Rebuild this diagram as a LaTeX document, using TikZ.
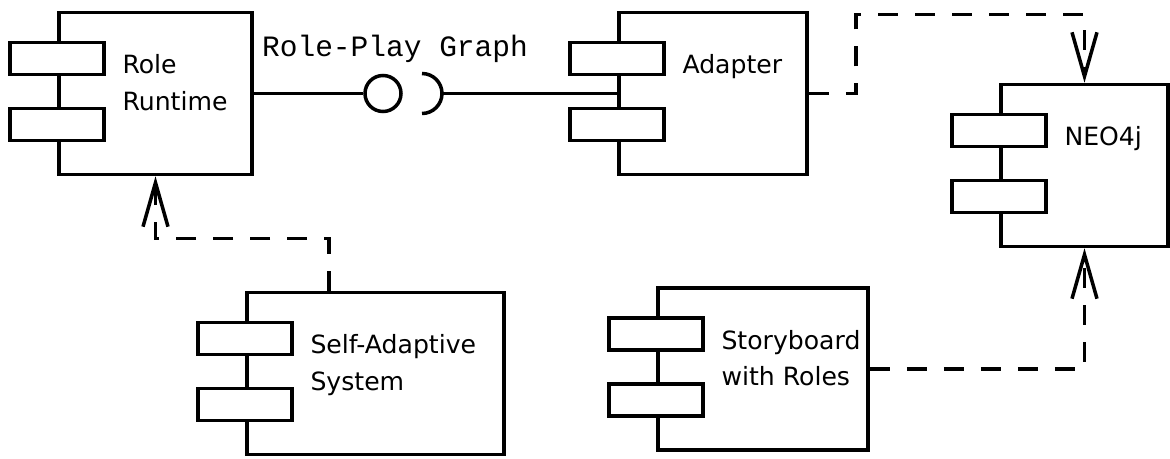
\documentclass[tikz,border=0pt]{standalone}
\usepackage{fontspec}
\setmainfont{DejaVu Sans}
\newfontfamily\graphfont{Liberation Mono}
\usetikzlibrary{arrows.meta}

\tikzset{
    comp/.style={draw, minimum height=3.24cm, inner sep=0pt},
    port/.style={draw, fill=white, minimum width=1.88cm, minimum height=0.64cm, inner sep=0pt},
    comp text/.style={anchor=north west, inner sep=0pt, align=left, font=\fontsize{14.3}{21}\selectfont},
    depends/.style={dash pattern=on 0.4cm off 0.34cm, -{Straight Barb[length=0.88cm, width=0.5cm]}},
}

% component box with its two ports and a label: name, centre, width, text
\newcommand{\umlcomp}[4]{%
    \node[comp, minimum width=#3] (#1) at (#2) {};
    \node[port] (#1-p1) at ([yshift=-0.96cm]#1.north west) {};
    \node[port] (#1-p2) at ([yshift=-2.28cm]#1.north west) {};
    \node[comp text] (#1-t) at ([xshift=1.27cm, yshift=-0.84cm]#1.north west) {#4};
}

\begin{document}
\begin{tikzpicture}[line width=2pt]
    \useasboundingbox (0,0) rectangle (23.4,9.18);

    \umlcomp{role}{3.11,7.31}{3.86cm}{Role\\Runtime}
    \umlcomp{adapter}{14.26,7.31}{3.76cm}{Adapter}
    \umlcomp{neo}{21.69,5.87}{3.34cm}{NEO4j}
    \umlcomp{selfad}{7.51,1.71}{5.14cm}{Self-Adaptive\\System}
    \umlcomp{story}{15.26,1.80}{4.20cm}{Storyboard\\with Roles}

    % ball and socket
    \node[circle, draw, minimum size=0.72cm, inner sep=0pt] (ball) at (7.66,7.31) {};
    \node[circle, minimum size=0.8cm, inner sep=0pt, outer sep=0pt] (sock) at (8.44,7.31) {};
    \draw (sock.north) arc[start angle=90, end angle=-90, radius=0.4cm];
    \draw (role.east) -- (ball.west);
    \draw (sock.east) -- (adapter.west);
    \node[font=\graphfont\fontsize{16.8}{20}\selectfont, anchor=base] (rpg) at (7.9,8.04) {Role-Play Graph};

    % dependencies
    \draw[depends] (adapter.east) -- ++(0.94,0) |- ([yshift=1.36cm]neo.north) -- (neo.north);
    \draw[depends] ([xshift=-0.93cm]selfad.north) -- ++(0,1.04) -| (role.south);
    \draw[depends] (story.east) -| (neo.south);
\end{tikzpicture}
\end{document}
